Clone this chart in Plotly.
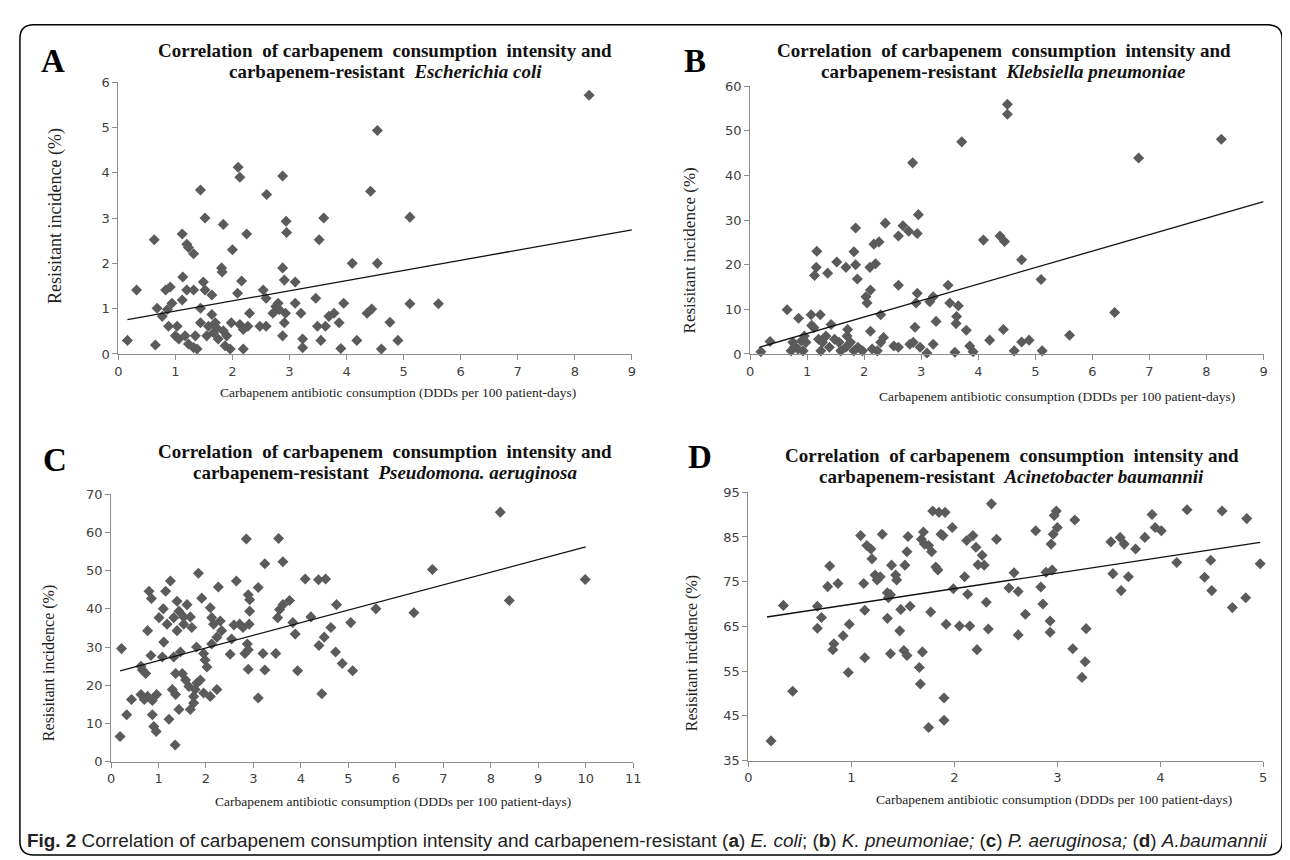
import plotly.graph_objects as go

W, H = 1290, 860

# ---------------- Panel A: E. coli ----------------
a_x = [0.16, 0.32, 0.63, 0.65, 0.68, 0.77, 0.83, 0.91, 0.94, 0.86, 0.88, 1.00, 1.03, 1.06, 1.12, 1.12, 1.13, 1.20,
       1.23, 1.20, 1.17, 1.23, 1.32, 1.32, 1.35, 1.32, 1.38, 1.44, 1.44, 1.44, 1.49, 1.52, 1.52, 1.55, 1.58, 1.64,
       1.64, 1.67, 1.70, 1.72, 1.75, 1.81, 1.82, 1.84, 1.84, 1.87, 1.90, 1.96, 2.00, 1.98, 2.10, 2.13, 2.09, 2.13,
       2.16, 2.19, 2.19, 2.25, 2.27, 2.30, 2.48, 2.54, 2.59, 2.59, 2.60, 2.71, 2.76, 2.80, 2.82, 2.88, 2.88, 2.88,
       2.94, 2.95, 2.91, 2.93, 2.91, 3.10, 3.10, 3.20, 3.23, 3.23, 3.46, 3.52, 3.49, 3.55, 3.60, 3.63, 3.69, 3.78,
       3.87, 3.90, 3.95, 4.10, 4.18, 8.25, 4.54, 4.42, 5.11, 4.54, 4.36, 4.44, 5.11, 5.61, 4.76, 4.90, 4.61]
a_y = [0.30, 1.41, 2.52, 0.20, 1.01, 0.83, 1.41, 1.48, 1.12, 0.98, 0.61, 0.40, 0.61, 0.33, 1.19, 2.65, 1.70, 2.42,
       2.35, 1.41, 0.40, 0.22, 2.21, 1.41, 0.40, 0.14, 0.11, 3.62, 1.01, 0.69, 1.59, 1.41, 3.00, 0.40, 0.61, 1.30,
       0.87, 0.47, 0.69, 0.58, 0.33, 1.90, 1.81, 2.86, 0.51, 0.18, 0.40, 0.11, 2.30, 0.69, 4.12, 3.90, 1.34, 0.65,
       1.61, 0.11, 0.54, 2.65, 0.61, 0.90, 0.61, 1.41, 0.61, 1.23, 3.52, 0.90, 1.05, 1.12, 0.98, 0.40, 3.93, 1.90,
       2.93, 2.68, 1.63, 0.90, 0.69, 1.59, 1.12, 0.90, 0.33, 0.14, 1.23, 2.52, 0.61, 0.30, 3.00, 0.61, 0.83, 0.90,
       0.69, 0.12, 1.12, 2.00, 0.30, 5.71, 4.93, 3.59, 3.02, 2.00, 0.90, 0.99, 1.11, 1.11, 0.70, 0.30, 0.11]
a_trend_x = [0.16, 9.0]
a_trend_y = [0.76, 2.74]

# ---------------- Panel B: K. pneumoniae ----------------
b_x = [0.19, 0.35, 0.65, 0.72, 0.75, 0.78, 0.85, 0.84, 0.90, 0.93, 0.98, 0.95, 1.07, 1.08, 1.12, 1.17, 1.16, 1.13,
       1.23, 1.20, 1.24, 1.27, 1.36, 1.33, 1.42, 1.39, 1.48, 1.52, 1.56, 1.59, 1.68, 1.68, 1.71, 1.70, 1.76, 1.82,
       1.85, 1.82, 1.85, 1.88, 1.89, 1.97, 2.03, 2.05, 2.11, 2.11, 2.10, 2.20, 2.17, 2.26, 2.29, 2.14, 2.23, 2.29,
       2.34, 2.37, 2.52, 2.60, 2.60, 2.60, 2.68, 2.78, 2.80, 2.85, 2.86, 2.93, 2.95, 2.93, 2.91, 2.89, 2.98, 3.10,
       3.15, 3.21, 3.21, 3.26, 3.47, 3.50, 3.59, 3.61, 3.62, 3.65, 3.71, 3.79, 3.85, 3.91, 4.09, 4.20, 4.51, 4.51,
       8.26, 6.81, 4.38, 4.46, 4.76, 5.10, 6.39, 4.44, 4.76, 4.89, 4.63, 5.12, 5.60]
b_y = [0.5, 2.8, 9.9, 0.7, 2.6, 1.6, 8.0, 1.1, 2.9, 0.7, 2.6, 4.0, 8.8, 6.4, 5.9, 23.0, 19.4, 17.6,
       8.8, 3.3, 0.7, 2.6, 18.1, 4.0, 6.6, 1.5, 3.3, 20.6, 2.6, 0.7, 1.5, 19.4, 5.5, 4.0, 2.6, 0.7,
       28.2, 22.9, 20.0, 16.8, 1.5, 0.7, 12.8, 11.4, 14.3, 5.1, 19.4, 20.2, 24.6, 25.1, 8.8, 1.1, 0.7, 2.6,
       3.7, 29.3, 1.8, 26.4, 15.4, 1.5, 28.7, 27.5, 2.2, 42.8, 2.6, 27.0, 31.2, 13.6, 11.4, 6.0, 1.5, 0.2,
       11.7, 12.8, 2.2, 7.3, 15.4, 11.4, 0.4, 6.8, 8.4, 10.8, 47.5, 5.3, 1.8, 0.5, 25.5, 3.1, 55.9, 53.7,
       48.1, 43.9, 26.4, 25.2, 21.1, 16.7, 9.3, 5.5, 2.7, 3.1, 0.7, 0.7, 4.2]
b_trend_x = [0.16, 9.0]
b_trend_y = [1.5, 34.1]

# ---------------- Panel C: P. aeruginosa ----------------
c_x = [0.22, 0.19, 0.33, 0.43, 0.63, 0.66, 0.73, 0.63, 0.70, 0.77, 0.80, 0.85, 0.77, 0.84, 0.87, 0.87, 0.90, 0.95,
       0.96, 1.01, 1.10, 1.11, 1.15, 1.25, 1.22, 1.18, 1.08, 1.29, 1.36, 1.32, 1.39, 1.39, 1.43, 1.46, 1.32, 1.36,
       1.43, 1.50, 1.53, 1.53, 1.60, 1.57, 1.64, 1.67, 1.67, 1.70, 1.74, 1.74, 1.81, 1.84, 1.80, 1.77, 1.88, 1.91,
       1.95, 1.98, 2.02, 1.95, 2.09, 2.09, 2.12, 2.12, 2.16, 2.23, 2.23, 2.26, 2.30, 2.33, 2.51, 2.54, 2.59, 2.64,
       2.71, 2.78, 2.82, 2.85, 2.89, 2.92, 2.92, 2.91, 2.87, 2.89, 2.89, 3.10, 3.10, 3.20, 3.24, 3.24, 3.47, 3.51,
       3.53, 3.62, 3.55, 3.62, 3.76, 3.83, 3.88, 3.93, 4.09, 4.21, 4.38, 4.44, 4.49, 4.37, 4.52, 4.63, 4.75, 4.73,
       4.87, 5.05, 8.20, 9.99, 8.39, 6.77, 6.38, 5.58, 5.09, 1.35]
c_y = [29.6, 6.6, 12.3, 16.3, 25.0, 24.0, 23.1, 17.6, 16.3, 17.1, 44.6, 42.7, 34.3, 27.8, 16.0, 12.3, 9.2, 7.9,
       17.6, 37.7, 40.0, 31.3, 44.6, 47.3, 11.1, 36.0, 27.4, 18.9, 17.6, 37.7, 42.0, 34.3, 39.4, 28.7, 27.4, 23.1,
       13.7, 23.1, 37.9, 36.0, 41.1, 21.4, 19.7, 37.9, 13.7, 35.1, 17.1, 15.4, 20.6, 49.3, 30.0, 18.9, 21.4, 42.8,
       28.3, 26.6, 24.8, 18.0, 17.1, 40.3, 37.7, 30.8, 36.0, 32.6, 18.9, 45.7, 36.8, 34.3, 28.1, 32.1, 35.8, 47.3,
       36.0, 35.1, 28.3, 58.3, 43.7, 42.4, 39.4, 36.0, 30.8, 29.3, 24.2, 16.7, 45.6, 28.3, 24.0, 51.8, 28.3, 37.7,
       58.4, 52.3, 39.8, 41.1, 42.2, 36.4, 33.4, 23.8, 47.8, 37.9, 30.4, 17.8, 32.6, 47.6, 47.8, 35.1, 41.1, 28.7,
       25.7, 36.4, 65.3, 47.7, 42.2, 50.3, 39.0, 40.0, 23.8, 4.4]
c_trend_x = [0.19, 10.0]
c_trend_y = [23.8, 56.2]

# ---------------- Panel D: A. baumannii ----------------
d_x = [0.22, 0.34, 0.43, 0.67, 0.67, 0.71, 0.77, 0.79, 0.83, 0.82, 0.87, 0.92, 0.98, 0.97, 1.09, 1.12, 1.13, 1.13,
       1.15, 1.19, 1.20, 1.23, 1.25, 1.28, 1.30, 1.35, 1.36, 1.38, 1.39, 1.35, 1.38, 1.43, 1.44, 1.47, 1.48, 1.51,
       1.54, 1.52, 1.54, 1.55, 1.57, 1.66, 1.67, 1.69, 1.68, 1.70, 1.71, 1.75, 1.78, 1.77, 1.75, 1.79, 1.82, 1.84,
       1.85, 1.87, 1.89, 1.90, 1.90, 1.91, 1.92, 1.98, 1.99, 2.05, 2.10, 2.12, 2.13, 2.15, 2.18, 2.21, 2.22, 2.23,
       2.27, 2.29, 2.31, 2.33, 2.36, 2.41, 2.58, 2.53, 2.62, 2.84, 2.86, 2.69, 2.62, 2.79, 2.89, 2.95, 2.93, 2.93,
       2.94, 2.96, 3.00, 2.97, 2.99, 3.17, 3.15, 3.28, 3.27, 3.24, 3.52, 3.61, 3.65, 3.54, 3.69, 3.62, 3.76, 3.85,
       3.92, 3.95, 4.01, 4.16, 4.26, 4.43, 4.49, 4.50, 4.60, 4.70, 4.83, 4.84, 4.97]
d_y = [39.4, 69.7, 50.5, 69.5, 64.6, 67.0, 73.9, 78.5, 61.1, 59.8, 74.6, 62.9, 65.5, 54.7, 85.3, 74.6, 68.6, 58.0,
       83.1, 82.3, 80.1, 76.5, 75.4, 76.1, 85.6, 72.5, 71.4, 72.1, 78.7, 66.8, 58.9, 76.5, 75.4, 64.0, 68.8, 59.6,
       58.5, 78.7, 81.7, 85.1, 69.5, 55.8, 52.1, 59.3, 84.5, 86.1, 83.4, 83.1, 81.7, 68.2, 42.4, 90.8, 78.3, 77.6,
       90.5, 85.6, 85.3, 49.0, 44.0, 90.5, 65.5, 87.1, 73.4, 65.1, 76.1, 84.2, 72.2, 65.1, 85.3, 82.7, 59.8, 78.8,
       80.9, 78.7, 70.4, 64.4, 92.4, 84.5, 77.0, 73.6, 72.8, 73.8, 70.0, 67.7, 63.1, 86.4, 77.1, 77.6, 66.2, 63.7,
       83.4, 85.6, 87.1, 89.8, 90.8, 88.8, 60.0, 64.5, 57.1, 53.6, 83.9, 84.9, 83.4, 76.8, 76.1, 73.0, 82.3, 84.9,
       90.0, 87.1, 86.4, 79.3, 91.1, 76.0, 79.8, 73.0, 90.8, 69.2, 71.4, 89.1, 79.0]
d_trend_x = [0.18, 4.97]
d_trend_y = [67.1, 83.8]

# axis ticks
a_xticks = list(range(0, 10)); a_yticks = list(range(0, 7))
b_xticks = list(range(0, 10)); b_yticks = list(range(0, 61, 10))
c_xticks = list(range(0, 12)); c_yticks = list(range(0, 71, 10))
d_xticks = list(range(0, 6));  d_yticks = list(range(35, 96, 10))

# text
title_line1 = "Correlation&nbsp; of carbapenem&nbsp; consumption&nbsp; intensity and"
species = ["Escherichia coli", "Klebsiella pneumoniae", "Pseudomona. aeruginosa", "Acinetobacter baumannii"]
letters = ["A", "B", "C", "D"]
xlab = "Carbapenem antibiotic consumption (DDDs per 100 patient-days)"
ylab = "Resisitant incidence (%)"

panels = [
    dict(x=a_x, y=a_y, tx=a_trend_x, ty=a_trend_y, xt=a_xticks, yt=a_yticks,
         dx=(107.3, 625.7), dy=(68.3, 345.0),
         letter=(41, 47), title=(377, 36, 58), xtitle=(390, 384), ytitle=(44, 205, 18)),
    dict(x=b_x, y=b_y, tx=b_trend_x, ty=b_trend_y, xt=b_xticks, yt=b_yticks,
         dx=(745.0, 1263.3), dy=(72.3, 345.0),
         letter=(689, 47), title=(1001, 36, 58), xtitle=(1055, 388), ytitle=(684, 240, 17)),
    dict(x=c_x, y=c_y, tx=c_trend_x, ty=c_trend_y, xt=c_xticks, yt=c_yticks,
         dx=(100.0, 627.0), dy=(487.7, 760.0),
         letter=(43, 453), title=(377, 444, 466), xtitle=(385, 800), ytitle=(38, 660, 16)),
    dict(x=d_x, y=d_y, tx=d_trend_x, ty=d_trend_y, xt=d_xticks, yt=d_yticks,
         dx=(743.3, 1263.0), dy=(485.7, 758.8),
         letter=(694, 450), title=(1009, 448, 470), xtitle=(1052, 798), ytitle=(686, 650, 16)),
]

fig = go.Figure()
annotations = []
axis_gray = "#8c8c8c"
tick_font = dict(family="DejaVu Sans, Verdana, sans-serif", size=13, color="#404040")
serif = "Liberation Serif, Times New Roman, serif"


def ann(x, y, text, size, family=serif, color="#111111", angle=0, xanchor="center"):
    return dict(x=x / W, y=1 - y / H, xref="paper", yref="paper", text=text, showarrow=False,
                textangle=angle, xanchor=xanchor, yanchor="middle",
                font=dict(family=family, size=size, color=color))


for i, p in enumerate(panels):
    n = "" if i == 0 else str(i + 1)
    xa, ya = "x" + n, "y" + n
    fig.add_trace(go.Scatter(x=p["x"], y=p["y"], mode="markers", xaxis=xa, yaxis=ya,
                             marker=dict(symbol="diamond", size=8.5, color="#5b5b5b"),
                             cliponaxis=False, showlegend=False, hoverinfo="skip"))
    fig.add_trace(go.Scatter(x=p["tx"], y=p["ty"], mode="lines", xaxis=xa, yaxis=ya,
                             line=dict(color="#111111", width=1.3),
                             showlegend=False, hoverinfo="skip"))
    common = dict(showgrid=False, zeroline=False, showline=True, linecolor=axis_gray, linewidth=1,
                  ticks="outside", tickcolor=axis_gray, ticklen=5, tickwidth=1, tickfont=tick_font)
    fig.layout["xaxis" + n] = dict(domain=[p["dx"][0] / W, p["dx"][1] / W],
                                   range=[p["xt"][0], p["xt"][-1]], tickvals=p["xt"],
                                   anchor=ya, **common)
    fig.layout["yaxis" + n] = dict(domain=[1 - p["dy"][1] / H, 1 - p["dy"][0] / H],
                                   range=[p["yt"][0], p["yt"][-1]], tickvals=p["yt"],
                                   anchor=xa, **common)
    annotations.append(ann(p["letter"][0], p["letter"][1], "<b>" + letters[i] + "</b>", 33, color="#000000"))
    annotations.append(ann(p["title"][0], p["title"][1], "<b>" + title_line1 + "</b>", 19))
    annotations.append(ann(p["title"][0], p["title"][2],
                           "<b>carbapenem-resistant&nbsp; <i>" + species[i] + "</i></b>", 19))
    annotations.append(ann(p["xtitle"][0], p["xtitle"][1], xlab, 13.5, color="#222222"))
    annotations.append(ann(p["ytitle"][0], p["ytitle"][1], ylab, p["ytitle"][2], color="#222222", angle=-90))

caption = ("<b>Fig. 2</b> Correlation of carbapenem consumption intensity and carbapenem-resistant "
           "(<b>a</b>) <i>E. coli</i>; (<b>b</b>) <i>K. pneumoniae;</i> (<b>c</b>) <i>P. aeruginosa;</i> "
           "(<b>d</b>) <i>A.baumannii</i>")
annotations.append(ann(13, 840, caption, 18.9,
                       family="Liberation Sans Narrow, Arial Narrow, Liberation Sans, sans-serif",
                       color="#222222", xanchor="left"))

# rounded border
L, R, T, B, r = 8, 1282, 10, 855, 14


def P(x, y):
    return f"{x / W:.5f},{1 - y / H:.5f}"


path = (f"M {P(L + r, T)} L {P(R - r, T)} Q {P(R, T)} {P(R, T + r)} L {P(R, B - r)} Q {P(R, B)} {P(R - r, B)} "
        f"L {P(L + r, B)} Q {P(L, B)} {P(L, B - r)} L {P(L, T + r)} Q {P(L, T)} {P(L + r, T)} Z")

fig.update_layout(width=W, height=H, margin=dict(l=0, r=0, t=0, b=0),
                  paper_bgcolor="white", plot_bgcolor="white",
                  annotations=annotations,
                  shapes=[dict(type="path", path=path, xref="paper", yref="paper",
                               line=dict(color="#000000", width=1.5))])

fig.write_html("out.html")
